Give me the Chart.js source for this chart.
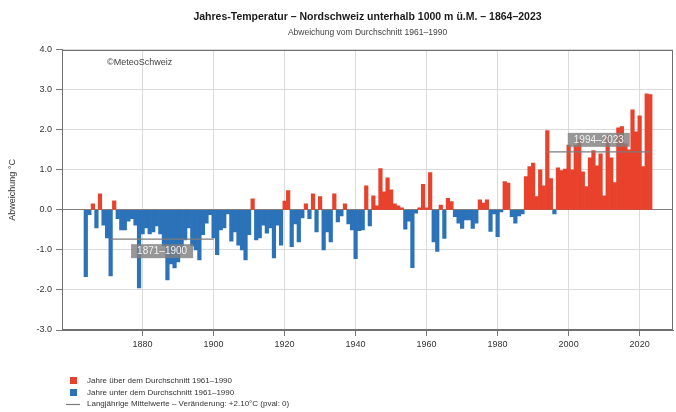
<!DOCTYPE html>
<html>
<head>
<meta charset="utf-8">
<script src="https://cdn.jsdelivr.net/npm/chart.js@4.4.0/dist/chart.umd.min.js"></script>
<style>
html, body { margin: 0; padding: 0; background: #fff; }
#wrap { position: relative; width: 676px; height: 412px; }
</style>
</head>
<body>
<div id="wrap"><canvas id="chart" width="676" height="412"></canvas></div>
<script>
// Abweichung vom Durchschnitt 1961-1990, Jahre 1864-2023
var firstYear = 1864;
var values = [
  -1.67, -0.12, 0.15, -0.45, 0.40, -0.38,
  -0.70, -1.65, 0.23, -0.22, -0.50, -0.50, -0.28, -0.22, -0.38, -1.95,
  -0.60, -0.45, -0.60, -0.55, -0.40, -0.60, -0.90, -1.75, -1.35, -1.45,
  -1.30, -1.00, -0.75, -0.45, -0.90, -1.00, -1.25, -0.62, -0.33, -0.12,
  -0.70, -1.12, -0.50, -0.45, -0.10, -0.78, -0.55, -0.88, -1.00, -1.25,
  -0.62, 0.28, -0.75, -0.70, -0.38, -0.58, -0.45, -1.20, -0.38, -0.88,
  0.22, 0.48, -0.92, -0.35, -0.80, -0.20, 0.15, -0.22, 0.40, -0.55,
  0.33, -1.00, -0.55, -0.80, 0.40, -0.30, -0.15, 0.15, -0.35, -0.50,
  -1.22, -0.52, -0.50, 0.60, -0.40, 0.35, 0.10, 1.03, 0.45, 0.80,
  0.50, 0.15, 0.10, 0.05, -0.48, -0.28, -1.44, -0.08, 0.05, 0.64,
  0.05, 0.93, -0.80, -1.04, 0.12, -0.71, 0.29, 0.21, -0.17, -0.33,
  -0.46, -0.25, -0.25, -0.46, -0.33, 0.25, 0.17, 0.25, -0.54, -0.10,
  -0.67, -0.05, 0.71, 0.67, -0.17, -0.33, -0.15, -0.10, 0.83, 1.08,
  1.17, 0.33, 1.00, 0.60, 1.98, 0.78, -0.10, 1.05, 0.98, 1.02,
  1.62, 1.00, 1.62, 1.75, 0.95, 0.58, 1.30, 1.48, 1.10, 1.40,
  0.35, 1.85, 1.30, 0.68, 2.05, 2.08, 1.65, 1.50, 2.50, 1.95,
  2.35, 1.08, 2.90, 2.88
];
var years = values.map(function(v, i){ return firstYear + i; });

var tickYears = [1880, 1900, 1920, 1940, 1960, 1980, 2000, 2020];

var periodNames = ['1871\u20131900', '1994\u20132023'];
var periodStart = [1871, 1994];
var periodEnd = [1900, 2023];
var periodMean = [-0.73, 1.45];

var legendLabels = [
  'Jahre \u00fcber dem Durchschnitt 1961\u20131990',
  'Jahre unter dem Durchschnitt 1961\u20131990',
  'Langj\u00e4hrige Mittelwerte \u2013 Ver\u00e4nderung: +2.10\u00b0C (pval: 0)'
];

var red = '#e8412c';
var blue = '#2b72b9';
var meanGrey = '#7d7d7d';
var fontName = '"Liberation Sans", Arial, sans-serif';

var datasets = [{
  type: 'bar',
  label: 'Abweichung',
  data: years.map(function(y, i){ return {x: y, y: values[i]}; }),
  backgroundColor: values.map(function(v){ return v >= 0 ? red : blue; }),
  borderWidth: 0,
  barPercentage: 1,
  categoryPercentage: 1,
  order: 2
}];
periodNames.forEach(function(name, i){
  datasets.push({
    type: 'line',
    label: name,
    data: [{x: periodStart[i], y: periodMean[i]}, {x: periodEnd[i], y: periodMean[i]}],
    borderColor: meanGrey,
    borderWidth: 1.2,
    pointRadius: 0,
    fill: false,
    order: 1
  });
});

var extras = {
  id: 'extras',
  afterDatasetsDraw: function(chart){
    var ctx = chart.ctx, a = chart.chartArea;
    var xs = chart.scales.x, ys = chart.scales.y;
    ctx.save();
    // Rahmen
    ctx.strokeStyle = '#707070';
    ctx.lineWidth = 1;
    ctx.strokeRect(Math.round(a.left) + 0.5, Math.round(a.top) + 0.5,
      Math.round(a.right - a.left) - 1, Math.round(a.bottom - a.top) - 1);

    // Perioden-Beschriftungen
    var shift = [-0.3, 0.3];
    ctx.font = '10px ' + fontName;
    ctx.textAlign = 'center';
    ctx.textBaseline = 'middle';
    periodNames.forEach(function(name, i){
      var cx = xs.getPixelForValue((periodStart[i] + periodEnd[i]) / 2);
      var cy = ys.getPixelForValue(periodMean[i] + shift[i]);
      var w = ctx.measureText(name).width + 12;
      ctx.fillStyle = 'rgba(128,128,128,0.82)';
      ctx.fillRect(cx - w / 2, cy - 7, w, 14);
      ctx.fillStyle = '#f2f2f2';
      ctx.fillText(name, cx, cy + 0.5);
    });

    // Quelle
    ctx.font = '9px ' + fontName;
    ctx.textAlign = 'left';
    ctx.fillStyle = '#444';
    ctx.fillText('\u00a9MeteoSchweiz', a.left + 45, a.top + 13);

    // Legende
    ctx.font = '8px ' + fontName;
    ctx.fillStyle = red;
    ctx.fillRect(70, 377, 7, 7);
    ctx.fillStyle = blue;
    ctx.fillRect(70, 389, 7, 7);
    ctx.strokeStyle = meanGrey;
    ctx.lineWidth = 1.2;
    ctx.beginPath();
    ctx.moveTo(66, 404.5);
    ctx.lineTo(80, 404.5);
    ctx.stroke();
    ctx.fillStyle = '#333';
    legendLabels.forEach(function(t, i){
      ctx.fillText(t, 87, 381 + i * 11.5);
    });
    ctx.restore();
  }
};

var ctx = document.getElementById('chart').getContext('2d');
var chart = new Chart(ctx, {
  data: { datasets: datasets },
  options: {
    responsive: false,
    animation: false,
    layout: { padding: { left: 5, right: 3, top: 3, bottom: 60 } },
    plugins: {
      legend: { display: false },
      tooltip: { enabled: false },
      title: {
        display: true,
        fullSize: false,
        text: 'Jahres-Temperatur \u2013 Nordschweiz unterhalb 1000 m \u00fc.M. \u2013 1864\u20132023',
        color: '#1a1a1a',
        font: { family: fontName, size: 10.5, weight: 'bold' },
        padding: { top: 8, bottom: 4 }
      },
      subtitle: {
        display: true,
        fullSize: false,
        text: 'Abweichung vom Durchschnitt 1961\u20131990',
        color: '#444',
        font: { family: fontName, size: 8.5 },
        padding: { top: 0, bottom: 12 }
      }
    },
    scales: {
      x: {
        type: 'linear',
        min: 1857.3,
        max: 2029.4,
        offset: false,
        afterBuildTicks: function(axis){
          axis.ticks = tickYears.map(function(v){ return {value: v}; });
        },
        afterFit: function(scale){ scale.height = 22; },
        ticks: {
          autoSkip: false,
          maxRotation: 0,
          color: '#333',
          font: { family: fontName, size: 9 },
          padding: 3,
          callback: function(v){ return String(v); }
        },
        grid: { offset: false, color: '#dadada', tickColor: '#777', tickLength: 6 },
        border: { display: true, color: '#707070' }
      },
      y: {
        min: -3,
        max: 4,
        afterFit: function(scale){ scale.width = 57; },
        ticks: {
          stepSize: 1,
          color: '#333',
          font: { family: fontName, size: 9 },
          padding: 4,
          callback: function(v){ return v.toFixed(1); }
        },
        grid: {
          color: function(c){ return c.tick && c.tick.value === 0 ? '#808080' : '#dadada'; },
          tickColor: '#777',
          tickLength: 6
        },
        border: { display: true, color: '#707070' },
        title: {
          display: true,
          text: 'Abweichung \u00b0C',
          color: '#333',
          font: { family: fontName, size: 9 },
          padding: 2
        }
      }
    }
  },
  plugins: [extras]
});
</script>
</body>
</html>
